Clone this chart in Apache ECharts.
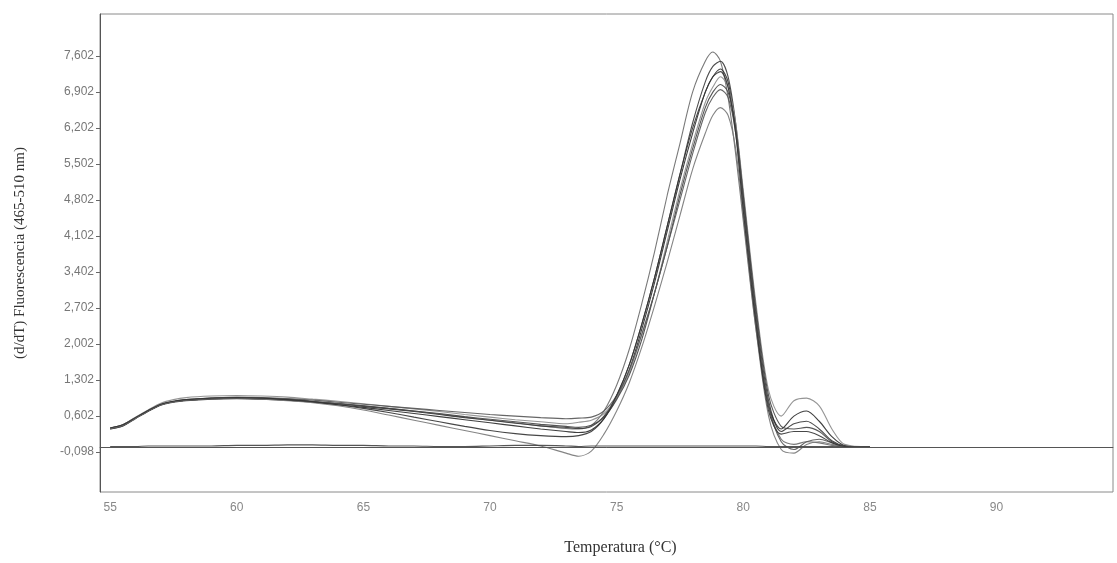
<!DOCTYPE html>
<html>
<head>
<meta charset="utf-8">
<script src="https://cdn.jsdelivr.net/npm/echarts@6/dist/echarts.min.js"></script>
<style>
  html, body { margin: 0; padding: 0; background: #fff; }
  #chart { width: 1117px; height: 563px; }
</style>
</head>
<body>
<div id="chart"></div>
<script>
// Melting-curve samples: temperature (°C) and -d/dT fluorescence (465-510 nm)
const temps = [55, 55.5, 56, 56.5, 57, 57.5, 58, 59, 60, 61, 62, 63, 64, 65, 66, 67, 68, 69, 70, 71, 72,
  73, 73.5, 74, 74.5, 75, 75.5, 76, 76.5, 77, 77.5, 78, 78.5, 78.8, 79.1, 79.4, 79.7, 80, 80.5,
  81, 81.5, 82, 82.5, 83, 83.5, 84, 85];

const sample1 = [0.36, 0.42, 0.57, 0.71, 0.83, 0.89, 0.92, 0.95, 0.96, 0.95, 0.93, 0.89, 0.85, 0.80, 0.75, 0.70, 0.64, 0.58, 0.52, 0.47, 0.41,
  0.36, 0.35, 0.42, 0.70, 1.20, 1.90, 2.80, 3.80, 4.90, 5.90, 6.90, 7.50, 7.68, 7.50, 6.80, 5.70, 4.40, 2.30,
  0.80, 0.15, 0.05, 0.10, 0.08, 0.03, 0.00, 0.00];
const sample2 = [0.35, 0.41, 0.55, 0.69, 0.81, 0.87, 0.90, 0.93, 0.94, 0.93, 0.91, 0.88, 0.84, 0.79, 0.74, 0.69, 0.63, 0.57, 0.52, 0.46, 0.41,
  0.38, 0.36, 0.40, 0.60, 1.00, 1.60, 2.40, 3.30, 4.30, 5.30, 6.30, 7.10, 7.40, 7.50, 7.20, 6.30, 4.90, 2.60,
  0.90, 0.30, 0.45, 0.50, 0.35, 0.12, 0.02, 0.00];
const sample3 = [0.37, 0.43, 0.57, 0.70, 0.82, 0.88, 0.91, 0.94, 0.95, 0.94, 0.91, 0.87, 0.82, 0.77, 0.71, 0.65, 0.59, 0.53, 0.47, 0.41, 0.35,
  0.30, 0.28, 0.33, 0.55, 0.95, 1.50, 2.30, 3.20, 4.20, 5.20, 6.10, 6.90, 7.20, 7.35, 7.10, 6.20, 4.80, 2.50,
  0.80, 0.35, 0.60, 0.70, 0.50, 0.20, 0.03, 0.00];
const sample4 = [0.36, 0.43, 0.58, 0.72, 0.85, 0.92, 0.96, 0.99, 1.00, 0.99, 0.97, 0.93, 0.89, 0.84, 0.79, 0.74, 0.69, 0.63, 0.58, 0.53, 0.49,
  0.45, 0.48, 0.52, 0.65, 0.95, 1.45, 2.20, 3.00, 4.00, 5.00, 5.90, 6.70, 7.00, 7.20, 7.00, 6.30, 5.00, 2.80,
  1.10, 0.60, 0.90, 0.95, 0.80, 0.35, 0.05, 0.00];
const sample5 = [0.35, 0.41, 0.56, 0.70, 0.82, 0.88, 0.91, 0.94, 0.95, 0.94, 0.92, 0.88, 0.84, 0.80, 0.75, 0.70, 0.65, 0.59, 0.54, 0.49, 0.44,
  0.40, 0.38, 0.42, 0.58, 0.92, 1.40, 2.10, 3.00, 3.90, 4.90, 5.80, 6.60, 6.90, 7.05, 6.90, 6.20, 4.90, 2.70,
  1.00, 0.40, 0.35, 0.38, 0.30, 0.10, 0.02, 0.00];
const sample6 = [0.36, 0.42, 0.56, 0.70, 0.82, 0.88, 0.92, 0.95, 0.97, 0.96, 0.94, 0.91, 0.87, 0.83, 0.79, 0.75, 0.71, 0.67, 0.63, 0.60, 0.57,
  0.55, 0.56, 0.58, 0.70, 1.00, 1.50, 2.20, 3.00, 3.90, 4.80, 5.70, 6.50, 6.80, 6.95, 6.80, 6.10, 4.70, 2.50,
  0.80, 0.10, -0.05, 0.10, 0.15, 0.08, 0.01, 0.00];
const sample7 = [0.36, 0.42, 0.56, 0.70, 0.82, 0.88, 0.91, 0.94, 0.95, 0.93, 0.90, 0.86, 0.80, 0.72, 0.62, 0.52, 0.42, 0.32, 0.22, 0.12, 0.02,
  -0.12, -0.18, -0.08, 0.25, 0.70, 1.25, 1.95, 2.75, 3.60, 4.50, 5.40, 6.10, 6.45, 6.60, 6.45, 5.80, 4.50, 2.30,
  0.60, -0.05, -0.12, 0.05, 0.10, 0.05, 0.00, 0.00];
const sample8 = [0.37, 0.43, 0.57, 0.71, 0.83, 0.89, 0.92, 0.95, 0.96, 0.95, 0.92, 0.88, 0.82, 0.75, 0.67, 0.58, 0.49, 0.40, 0.32, 0.26, 0.22,
  0.20, 0.22, 0.30, 0.55, 1.00, 1.60, 2.40, 3.30, 4.30, 5.30, 6.20, 6.90, 7.20, 7.30, 7.00, 6.10, 4.60, 2.40,
  0.70, 0.25, 0.30, 0.30, 0.22, 0.08, 0.01, 0.00];
const blank1 = [0.01, 0.01, 0.01, 0.02, 0.02, 0.02, 0.02, 0.02, 0.03, 0.03, 0.04, 0.04, 0.03, 0.03, 0.02, 0.02, 0.01, 0.01, 0.02, 0.03, 0.03,
  0.02, 0.01, 0.02, 0.02, 0.02, 0.02, 0.02, 0.02, 0.02, 0.02, 0.02, 0.02, 0.02, 0.02, 0.02, 0.02, 0.02, 0.02,
  0.01, 0.01, 0.01, 0.01, 0.01, 0.01, 0.00, 0.00];

const curves = [sample1, sample2, sample3, sample4, sample5, sample6, sample7, sample8, blank1];
const curveColors = ['#6a6a6a', '#3a3a3a', '#2a2a2a', '#8a8a8a', '#444444', '#555555', '#777777', '#333333', '#444444'];

// Axis ticks
const xTicks = [55, 60, 65, 70, 75, 80, 85, 90];
const yTicks = [-0.098, 0.602, 1.302, 2.002, 2.702, 3.402, 4.102, 4.802, 5.502, 6.202, 6.902, 7.602];

const fmtComma = v => v.toFixed(3).replace('.', ',');

const series = curves.map((vals, i) => ({
  type: 'line',
  data: temps.map((t, k) => [t, vals[k]]),
  smooth: 0.3,
  showSymbol: false,
  silent: true,
  lineStyle: { color: curveColors[i], width: 1.1, opacity: 0.9 },
  z: 3
}));

// horizontal zero reference line across the plot
series[series.length - 1].markLine = {
  silent: true,
  symbol: 'none',
  label: { show: false },
  lineStyle: { color: '#555', width: 1, type: 'solid' },
  data: [{ yAxis: 0 }]
};

const chart = echarts.init(document.getElementById('chart'));
chart.setOption({
  backgroundColor: '#ffffff',
  animation: false,
  grid: {
    left: 100, right: 4, top: 14, bottom: 71,
    show: true, borderColor: '#8a8a8a', borderWidth: 1
  },
  xAxis: {
    type: 'value',
    min: 54.6, max: 94.6,
    name: 'Temperatura (°C)',
    nameLocation: 'middle',
    nameGap: 48,
    nameTextStyle: { fontFamily: 'Liberation Serif', fontSize: 16, color: '#333', padding: [0, 0, 0, 28] },
    axisLine: { show: true, lineStyle: { color: '#777', width: 1 } },
    axisTick: { show: false },
    splitLine: { show: false },
    axisLabel: {
      customValues: xTicks,
      fontFamily: 'Liberation Sans', fontSize: 12, color: '#888',
      margin: 10
    }
  },
  yAxis: {
    type: 'value',
    min: -0.876, max: 8.42,
    name: '(d/dT) Fluorescencia (465-510 nm)',
    nameLocation: 'middle',
    nameGap: 72,
    nameTextStyle: { fontFamily: 'Liberation Serif', fontSize: 15, color: '#333' },
    axisLine: { show: true, lineStyle: { color: '#555', width: 1 } },
    axisTick: { show: true, customValues: yTicks, length: 4, lineStyle: { color: '#666' } },
    splitLine: { show: false },
    axisLabel: {
      customValues: yTicks,
      formatter: v => fmtComma(v),
      fontFamily: 'Liberation Sans', fontSize: 12, color: '#777',
      margin: 6
    }
  },
  series: series
});
</script>
</body>
</html>
